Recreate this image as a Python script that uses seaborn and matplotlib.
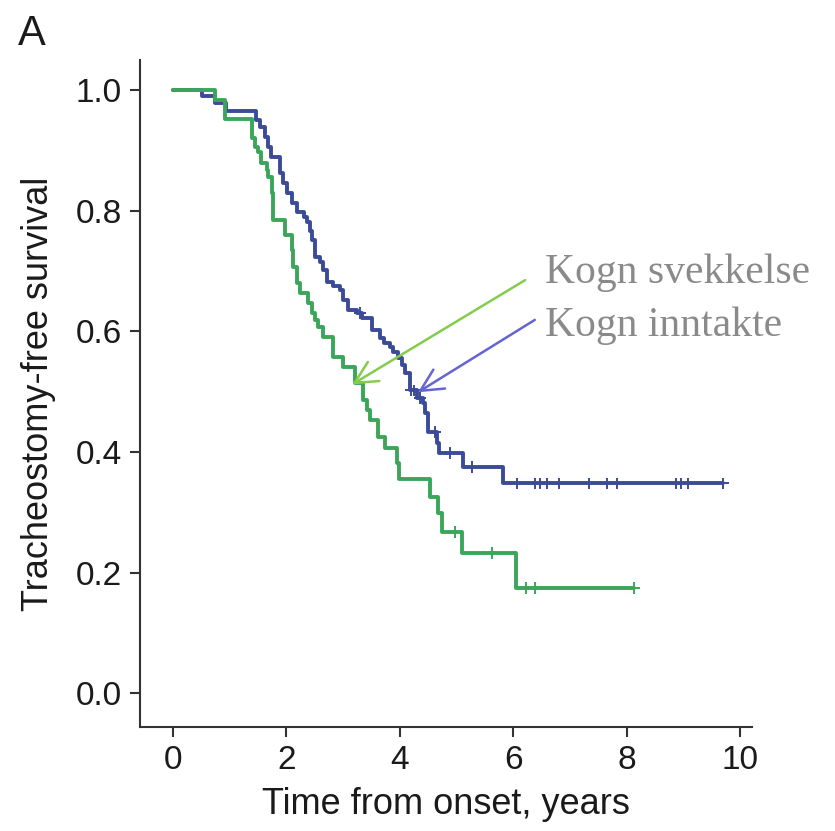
import numpy as np
import pandas as pd
import matplotlib
matplotlib.use("Agg")
import matplotlib.pyplot as plt
import seaborn as sns

# Gruppenavn og farger
grupper = ["Kogn inntakte", "Kogn svekkelse"]
farger = {"Kogn inntakte": "#3b4b98", "Kogn svekkelse": "#3ba65a"}

# Kogn inntakte (blå kurve): hendelsestider (år) og overlevelse etter hver hendelse
intakt_tid = [0.51, 0.74, 0.93, 1.46, 1.53, 1.62, 1.68, 1.73, 1.89, 1.94, 2.01, 2.10,
              2.19, 2.31, 2.36, 2.42, 2.45, 2.50, 2.59, 2.65, 2.72, 2.82, 2.95, 3.00,
              3.09, 3.25, 3.33, 3.51, 3.65, 3.72, 3.83, 3.88, 3.97, 4.04, 4.09, 4.18,
              4.30, 4.41, 4.44, 4.50, 4.66, 4.69, 5.11, 5.82]
intakt_surv = [0.990, 0.978, 0.965, 0.950, 0.939, 0.922, 0.906, 0.889, 0.862, 0.846,
               0.829, 0.813, 0.798, 0.790, 0.781, 0.766, 0.752, 0.723, 0.715, 0.701,
               0.682, 0.675, 0.668, 0.652, 0.635, 0.630, 0.622, 0.602, 0.589, 0.580,
               0.574, 0.566, 0.556, 0.544, 0.531, 0.502, 0.490, 0.481, 0.464, 0.433,
               0.415, 0.398, 0.375, 0.348]
intakt_sensur = [3.30, 4.20, 4.25, 4.36, 4.62, 4.89, 5.27, 6.06, 6.39, 6.47, 6.60,
                 6.81, 7.33, 7.66, 7.83, 8.87, 8.96, 9.09, 9.70]

# Kogn svekkelse (grønn kurve)
svekket_tid = [0.74, 0.92, 1.39, 1.45, 1.50, 1.55, 1.66, 1.68, 1.74, 1.76, 1.77, 1.98,
               2.10, 2.12, 2.19, 2.24, 2.38, 2.45, 2.50, 2.56, 2.65, 2.82, 3.00, 3.21,
               3.35, 3.42, 3.47, 3.62, 3.74, 3.95, 3.99, 4.53, 4.67, 4.74, 5.10, 6.05]
svekket_surv = [0.983, 0.952, 0.920, 0.906, 0.897, 0.880, 0.868, 0.856, 0.830, 0.805,
                0.784, 0.760, 0.735, 0.706, 0.680, 0.663, 0.647, 0.630, 0.619, 0.607,
                0.590, 0.557, 0.541, 0.514, 0.486, 0.469, 0.453, 0.425, 0.406, 0.381,
                0.355, 0.325, 0.298, 0.267, 0.232, 0.174]
svekket_sensur = [4.97, 5.63, 6.23, 6.39, 8.13]

x_ticks = [0, 2, 4, 6, 8, 10]
y_ticks = [0.0, 0.2, 0.4, 0.6, 0.8, 1.0]


def trappekurve(navn, tid, surv, sensur):
    slutt = max(tid[-1], sensur[-1])
    return pd.DataFrame({
        "tid": [0.0] + tid + [slutt],
        "overlevelse": [1.0] + surv + [surv[-1]],
        "gruppe": navn,
    })


def sensurpunkter(navn, tid, surv, sensur):
    nivaa = np.array([1.0] + surv)
    idx = np.searchsorted(np.array(tid), np.array(sensur), side="right")
    return pd.DataFrame({"tid": sensur, "overlevelse": nivaa[idx], "gruppe": navn})


kurver = pd.concat([
    trappekurve(grupper[0], intakt_tid, intakt_surv, intakt_sensur),
    trappekurve(grupper[1], svekket_tid, svekket_surv, svekket_sensur),
], ignore_index=True)
sensur = pd.concat([
    sensurpunkter(grupper[0], intakt_tid, intakt_surv, intakt_sensur),
    sensurpunkter(grupper[1], svekket_tid, svekket_surv, svekket_sensur),
], ignore_index=True)

sns.set_style("ticks")
plt.rcParams["font.family"] = ["Liberation Sans", "DejaVu Sans"]

fig = plt.figure(figsize=(8.35, 8.31), dpi=100)
ax = fig.add_axes([0.1677, 0.1252, 0.7329, 0.8026])

sns.lineplot(data=kurver, x="tid", y="overlevelse", hue="gruppe", palette=farger,
             drawstyle="steps-post", estimator=None, sort=False, linewidth=2.8,
             legend=False, ax=ax)
sns.scatterplot(data=sensur, x="tid", y="overlevelse", hue="gruppe", palette=farger,
                marker="+", s=70, linewidth=1.4, legend=False, ax=ax, zorder=3)

ax.set_xlim(-0.58, 10.21)
ax.set_ylim(-0.056, 1.05)
ax.set_xticks(x_ticks)
ax.set_yticks(y_ticks)
ax.set_yticklabels([f"{v:.1f}" for v in y_ticks])
ax.set_xlabel("Time from onset, years", fontsize=26, color="#1a1a1a", labelpad=8)
ax.set_ylabel("Tracheostomy-free survival", fontsize=26, color="#1a1a1a", labelpad=14)
ax.tick_params(direction="out", length=7, width=1.5, color="#333333",
               labelsize=24, labelcolor="#1a1a1a", pad=6)
for side in ["left", "bottom"]:
    ax.spines[side].set_linewidth(1.5)
    ax.spines[side].set_color("#333333")
sns.despine(ax=ax)

# Forklarende tekst med piler
tekst = dict(fontsize=30, color="#8a8a8a", family=["Liberation Serif", "DejaVu Serif"],
             va="center", ha="left")
ax.text(6.56, 0.698, "Kogn svekkelse", **tekst)
ax.text(6.56, 0.609, "Kogn inntakte", **tekst)
pil = "->,head_length=0.8,head_width=0.4"
ax.annotate("", xy=(3.16, 0.512), xytext=(6.21, 0.685),
            arrowprops=dict(arrowstyle=pil, color="#84cc4c", lw=1.8, mutation_scale=20,
                            shrinkA=0, shrinkB=0))
ax.annotate("", xy=(4.32, 0.499), xytext=(6.38, 0.619),
            arrowprops=dict(arrowstyle=pil, color="#6464d2", lw=1.8, mutation_scale=20,
                            shrinkA=0, shrinkB=0))

fig.text(0.022, 0.946, "A", fontsize=30, color="#1a1a1a", va="baseline")

fig.savefig("out.png", dpi=100)
